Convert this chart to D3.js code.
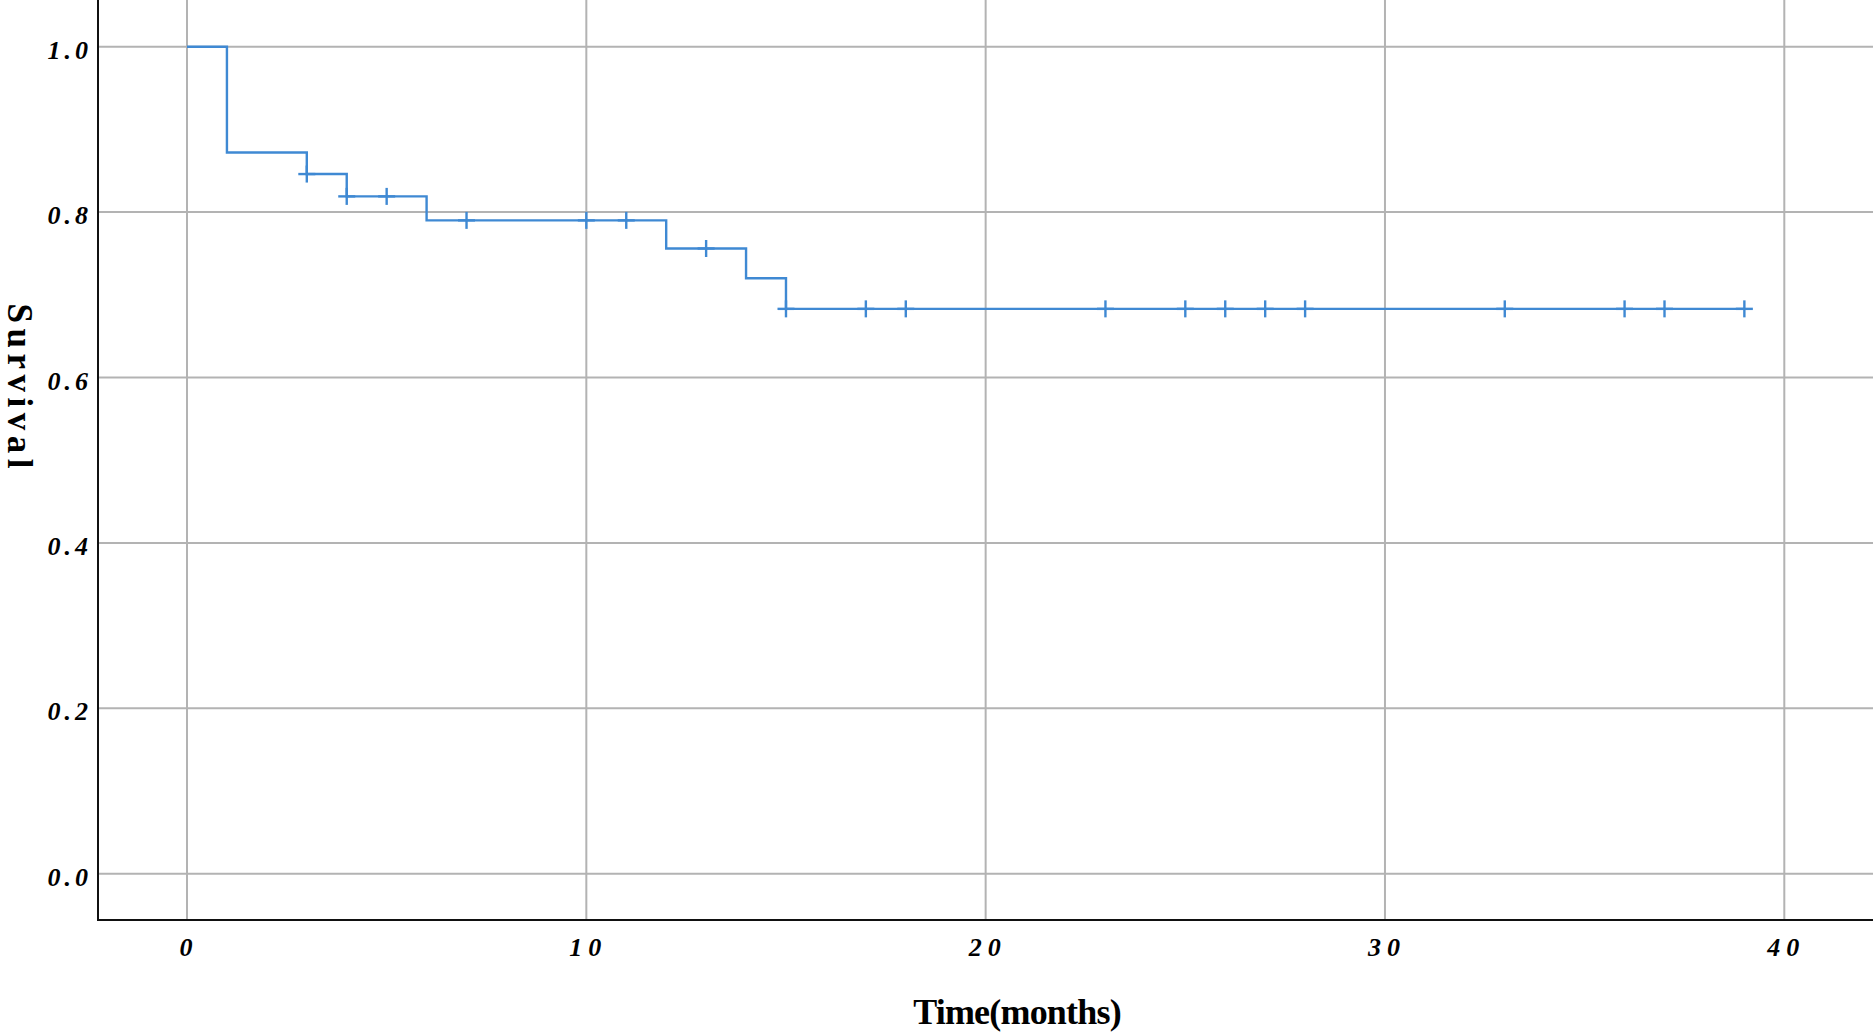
<!DOCTYPE html>
<html>
<head>
<meta charset="utf-8">
<script src="https://cdn.jsdelivr.net/npm/d3@7"></script>
<style>
  html, body { margin: 0; padding: 0; background: #fff; }
  svg { display: block; }
</style>
</head>
<body>
<svg id="chart" width="1875" height="1034"></svg>
<script>
// ---- Data ----
const eventTimes = [0, 1, 3, 4, 6, 12, 14, 15];
const survivalValues = [1.0, 0.872, 0.846, 0.819, 0.790, 0.756, 0.720, 0.683];
const censorTimes = [3, 4, 5, 7, 10, 11, 13, 15, 17, 18, 23, 25, 26, 27, 28, 33, 36, 37, 39];
const endTime = 39;
const xTickValues = [0, 10, 20, 30, 40];
const yTickValues = [0.0, 0.2, 0.4, 0.6, 0.8, 1.0];
const xTitle = "Time(months)";
const yTitle = "Survival";

// ---- Layout ----
const svg = d3.select("#chart");
const axisLeftX = 98, axisBottomY = 920, plotRight = 1873, plotTop = 0;
const x = d3.scaleLinear().domain([0, 40]).range([187, 1784.3]);
const y = d3.scaleLinear().domain([0, 1]).range([873.7, 46.7]);

const gridColor = "#b3b3b3";
const lineColor = "#3f89d3";
const tickFont = "'Liberation Serif', 'Times New Roman', serif";

// horizontal gridlines
svg.append("g").selectAll("line").data(yTickValues).join("line")
  .attr("x1", axisLeftX).attr("x2", plotRight)
  .attr("y1", d => y(d)).attr("y2", d => y(d))
  .attr("stroke", gridColor).attr("stroke-width", 2);

// vertical gridlines
svg.append("g").selectAll("line").data(xTickValues).join("line")
  .attr("x1", d => x(d)).attr("x2", d => x(d))
  .attr("y1", plotTop).attr("y2", axisBottomY)
  .attr("stroke", gridColor).attr("stroke-width", 2);

// axes lines
svg.append("line").attr("x1", axisLeftX).attr("x2", axisLeftX)
  .attr("y1", 0).attr("y2", axisBottomY + 1)
  .attr("stroke", "#111").attr("stroke-width", 2);
svg.append("line").attr("x1", axisLeftX - 1).attr("x2", plotRight)
  .attr("y1", axisBottomY).attr("y2", axisBottomY)
  .attr("stroke", "#111").attr("stroke-width", 2);

// y tick labels
const ySpacing = 4;
svg.append("g").selectAll("text").data(yTickValues).join("text")
  .attr("x", 88 + ySpacing)
  .attr("y", d => y(d) + 12)
  .attr("text-anchor", "end")
  .attr("font-family", tickFont)
  .attr("font-style", "italic").attr("font-weight", "bold")
  .attr("font-size", 26)
  .attr("letter-spacing", ySpacing)
  .attr("fill", "#000")
  .text(d => d3.format(".1f")(d));

// x tick labels
const xSpacing = 6;
svg.append("g").selectAll("text").data(xTickValues).join("text")
  .attr("x", d => x(d) - 1 + xSpacing / 2)
  .attr("y", 956)
  .attr("text-anchor", "middle")
  .attr("font-family", tickFont)
  .attr("font-style", "italic").attr("font-weight", "bold")
  .attr("font-size", 26)
  .attr("letter-spacing", xSpacing)
  .attr("fill", "#000")
  .text(d => String(d));

// titles
svg.append("text")
  .attr("x", 1017).attr("y", 1024)
  .attr("text-anchor", "middle")
  .attr("font-family", tickFont)
  .attr("font-weight", "bold")
  .attr("font-size", 36)
  .attr("letter-spacing", -0.8)
  .attr("fill", "#000")
  .text(xTitle);

const ySpacingTitle = 5.5;
svg.append("text")
  .attr("transform", `translate(8, ${386 + ySpacingTitle / 2}) rotate(90)`)
  .attr("text-anchor", "middle")
  .attr("font-family", tickFont)
  .attr("font-weight", "bold")
  .attr("font-size", 35)
  .attr("letter-spacing", ySpacingTitle)
  .attr("fill", "#000")
  .text(yTitle);

// KM step curve
const stepData = eventTimes.map((t, i) => [t, survivalValues[i]]);
stepData.push([endTime, survivalValues[survivalValues.length - 1]]);
const line = d3.line()
  .x(d => x(d[0])).y(d => y(d[1]))
  .curve(d3.curveStepAfter);
svg.append("path")
  .datum(stepData)
  .attr("d", line)
  .attr("fill", "none")
  .attr("stroke", lineColor)
  .attr("stroke-width", 2.4);

// censor marks ("+")
function survAt(t) {
  const i = d3.bisectRight(eventTimes, t) - 1;
  return survivalValues[Math.max(0, i)];
}
const half = 8.5;
const cg = svg.append("g").attr("stroke", lineColor).attr("stroke-width", 2.4);
censorTimes.forEach(t => {
  const cx = x(t), cy = y(survAt(t));
  cg.append("line").attr("x1", cx).attr("x2", cx).attr("y1", cy - half).attr("y2", cy + half);
  cg.append("line").attr("x1", cx - half).attr("x2", cx + half).attr("y1", cy).attr("y2", cy);
});
</script>
</body>
</html>
